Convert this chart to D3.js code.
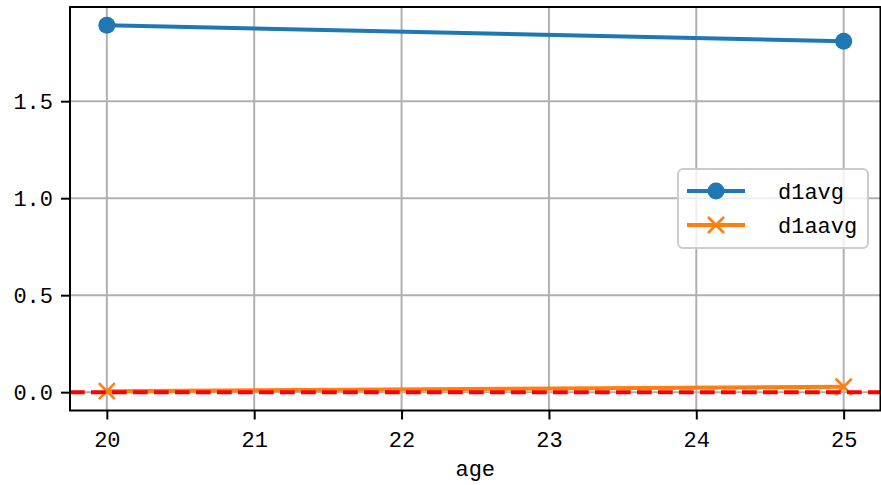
<!DOCTYPE html>
<html><head><meta charset="utf-8">
<script src="https://cdn.jsdelivr.net/npm/d3@7"></script>
<style>body{margin:0;background:#fff}svg{display:block}text{font-family:"Liberation Mono",monospace;fill:#000}</style>
</head><body><svg id="c" width="881" height="485"></svg>
<script>
const ages = [20, 25];
const d1avg = [1.891, 1.809];
const d1aavg = [0.005, 0.028];
const xTicks = [20, 21, 22, 23, 24, 25];
const yTicks = [0.0, 0.5, 1.0, 1.5];
const yTickLabels = ["0.0", "0.5", "1.0", "1.5"];
const seriesNames = ["d1avg", "d1aavg"];
const colors = ["#1f77b4", "#ff7f0e"];

const svg = d3.select("#c");
const L = 70, R = 880.5, T = 7, B = 410.5;
const xmin = d3.min(ages), xmax = d3.max(ages), xm = (xmax - xmin) * 0.05;
const allY = d1avg.concat(d1aavg, [0]);
const ymin = d3.min(allY), ymax = d3.max(allY), ym = (ymax - ymin) * 0.05;
const x = d3.scaleLinear().domain([xmin - xm, xmax + xm]).range([L, R]);
const y = d3.scaleLinear().domain([ymin - ym, ymax + ym]).range([B, T]);

// grid
const g = svg.append("g");
g.selectAll(".gx").data(xTicks).join("line")
  .attr("x1", d => x(d)).attr("x2", d => x(d)).attr("y1", T).attr("y2", B)
  .attr("stroke", "#b0b0b0").attr("stroke-width", 2);
g.selectAll(".gy").data(yTicks).join("line")
  .attr("y1", d => y(d)).attr("y2", d => y(d)).attr("x1", L).attr("x2", R)
  .attr("stroke", "#b0b0b0").attr("stroke-width", 2);

// axes
const xAxis = d3.axisBottom(x).tickValues(xTicks).tickFormat(d3.format("d")).tickSize(9).tickPadding(8);
const yAxis = d3.axisLeft(y).tickValues(yTicks).tickFormat((d, i) => yTickLabels[i]).tickSize(9).tickPadding(8);
const gx = svg.append("g").attr("transform", `translate(0,${B})`).call(xAxis);
const gy = svg.append("g").attr("transform", `translate(${L},0)`).call(yAxis);
[gx, gy].forEach(a => {
  a.select(".domain").remove();
  a.selectAll(".tick line").attr("stroke", "#000").attr("stroke-width", 2);
  a.selectAll(".tick text").attr("font-size", 22).attr("font-family", "Liberation Mono");
});
gx.selectAll(".tick text").attr("dy", "0.9em");

// lines
const line = d3.line().x((d, i) => x(ages[i])).y(d => y(d));
svg.append("path").datum(d1avg).attr("d", line).attr("fill", "none")
  .attr("stroke", colors[0]).attr("stroke-width", 4);
svg.selectAll(".m1").data(d1avg).join("circle")
  .attr("cx", (d, i) => x(ages[i])).attr("cy", d => y(d)).attr("r", 8.5).attr("fill", colors[0]);
svg.append("path").datum(d1aavg).attr("d", line).attr("fill", "none")
  .attr("stroke", colors[1]).attr("stroke-width", 4);
const xs = 8;
svg.selectAll(".m2").data(d1aavg).join("path")
  .attr("d", (d, i) => { const cx = x(ages[i]), cy = y(d); return `M${cx-xs},${cy-xs}L${cx+xs},${cy+xs}M${cx-xs},${cy+xs}L${cx+xs},${cy-xs}`; })
  .attr("stroke", colors[1]).attr("stroke-width", 2.6).attr("fill", "none");

// red dashed zero line
svg.append("line").attr("x1", L).attr("x2", R).attr("y1", y(0)).attr("y2", y(0))
  .attr("stroke", "red").attr("stroke-width", 4).attr("stroke-dasharray", "14.7,6.3");

// spines
svg.append("rect").attr("x", L).attr("y", T).attr("width", R - L).attr("height", B - T)
  .attr("fill", "none").attr("stroke", "#000").attr("stroke-width", 2);

// x label
svg.append("text").attr("x", (L + R) / 2).attr("y", 476).attr("text-anchor", "middle")
  .attr("font-size", 22).text("age");

// legend
const lg = svg.append("g");
lg.append("rect").attr("x", 678).attr("y", 169).attr("width", 190).attr("height", 79)
  .attr("rx", 5).attr("fill", "#fff").attr("fill-opacity", 0.8).attr("stroke", "#cccccc").attr("stroke-width", 2);
seriesNames.forEach((name, i) => {
  const yy = 191 + i * 34;
  lg.append("line").attr("x1", 687).attr("x2", 745).attr("y1", yy).attr("y2", yy)
    .attr("stroke", colors[i]).attr("stroke-width", 4);
  if (i === 0) {
    lg.append("circle").attr("cx", 716).attr("cy", yy).attr("r", 8.5).attr("fill", colors[i]);
  } else {
    lg.append("path").attr("d", `M${716-xs},${yy-xs}L${716+xs},${yy+xs}M${716-xs},${yy+xs}L${716+xs},${yy-xs}`)
      .attr("stroke", colors[i]).attr("stroke-width", 2.6);
  }
  lg.append("text").attr("x", 778).attr("y", yy).attr("dy", "0.35em").attr("font-size", 22).text(name);
});
</script></body></html>
